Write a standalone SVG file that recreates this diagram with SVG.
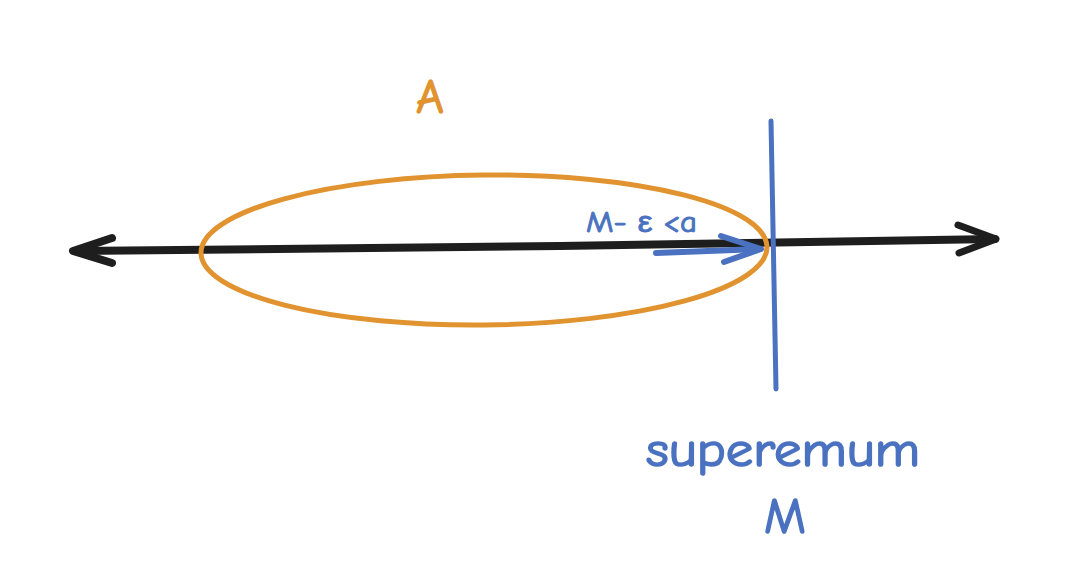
<svg xmlns="http://www.w3.org/2000/svg" width="1090" height="568" viewBox="0 0 1090 568">
<style>
.ink{fill:none;stroke-linecap:round;stroke-linejoin:round}
.black{stroke:#1e1e1e}
.blue{stroke:#4a72c0}
.orange{stroke:#e0932f}
.t{font-family:"Comic Neue","Liberation Sans","DejaVu Sans",sans-serif;stroke-linejoin:round}
.tb{fill:#4a72c0;stroke:#4a72c0}
.to{fill:#e0932f;stroke:#e0932f}
</style>
<rect width="1090" height="568" fill="#ffffff"/>
<g id="connectors">
<g id="number-line">
<path class="ink black" d="M75 251 L560 246 L995 239" stroke-width="8"/>
<path class="ink black" d="M112 238 L73 251 L112 263" stroke-width="8"/>
<path class="ink black" d="M958 225 L996 239 L959 253" stroke-width="7"/>
</g>
<g id="epsilon-arrow">
<path class="ink blue" d="M656 253 L760 249" stroke-width="6"/>
<path class="ink blue" d="M721 236 L761 249 L724 262" stroke-width="6"/>
</g>
</g>
<g id="set-A">
<ellipse class="ink orange" cx="484" cy="250" rx="283" ry="75" transform="rotate(-0.6 484 250)" stroke-width="5"/>
<text class="t to" x="430" y="113" font-size="48" stroke-width="1.5" text-anchor="middle">A</text>
</g>
<g id="supremum-line">
<path class="ink blue" d="M771 121 L776 389" stroke-width="5"/>
</g>
<g id="label-eps">
<text class="t tb" x="586" y="232" font-size="30" stroke-width="1" textLength="111" lengthAdjust="spacingAndGlyphs">M- ε &lt;a</text>
</g>
<g id="label-supremum">
<text class="t tb" x="646" y="466" font-size="48" stroke-width="1.6" textLength="274" lengthAdjust="spacingAndGlyphs">superemum</text>
<text class="t tb" x="785" y="533" font-size="50" stroke-width="1.6" text-anchor="middle">M</text>
</g>
</svg>
